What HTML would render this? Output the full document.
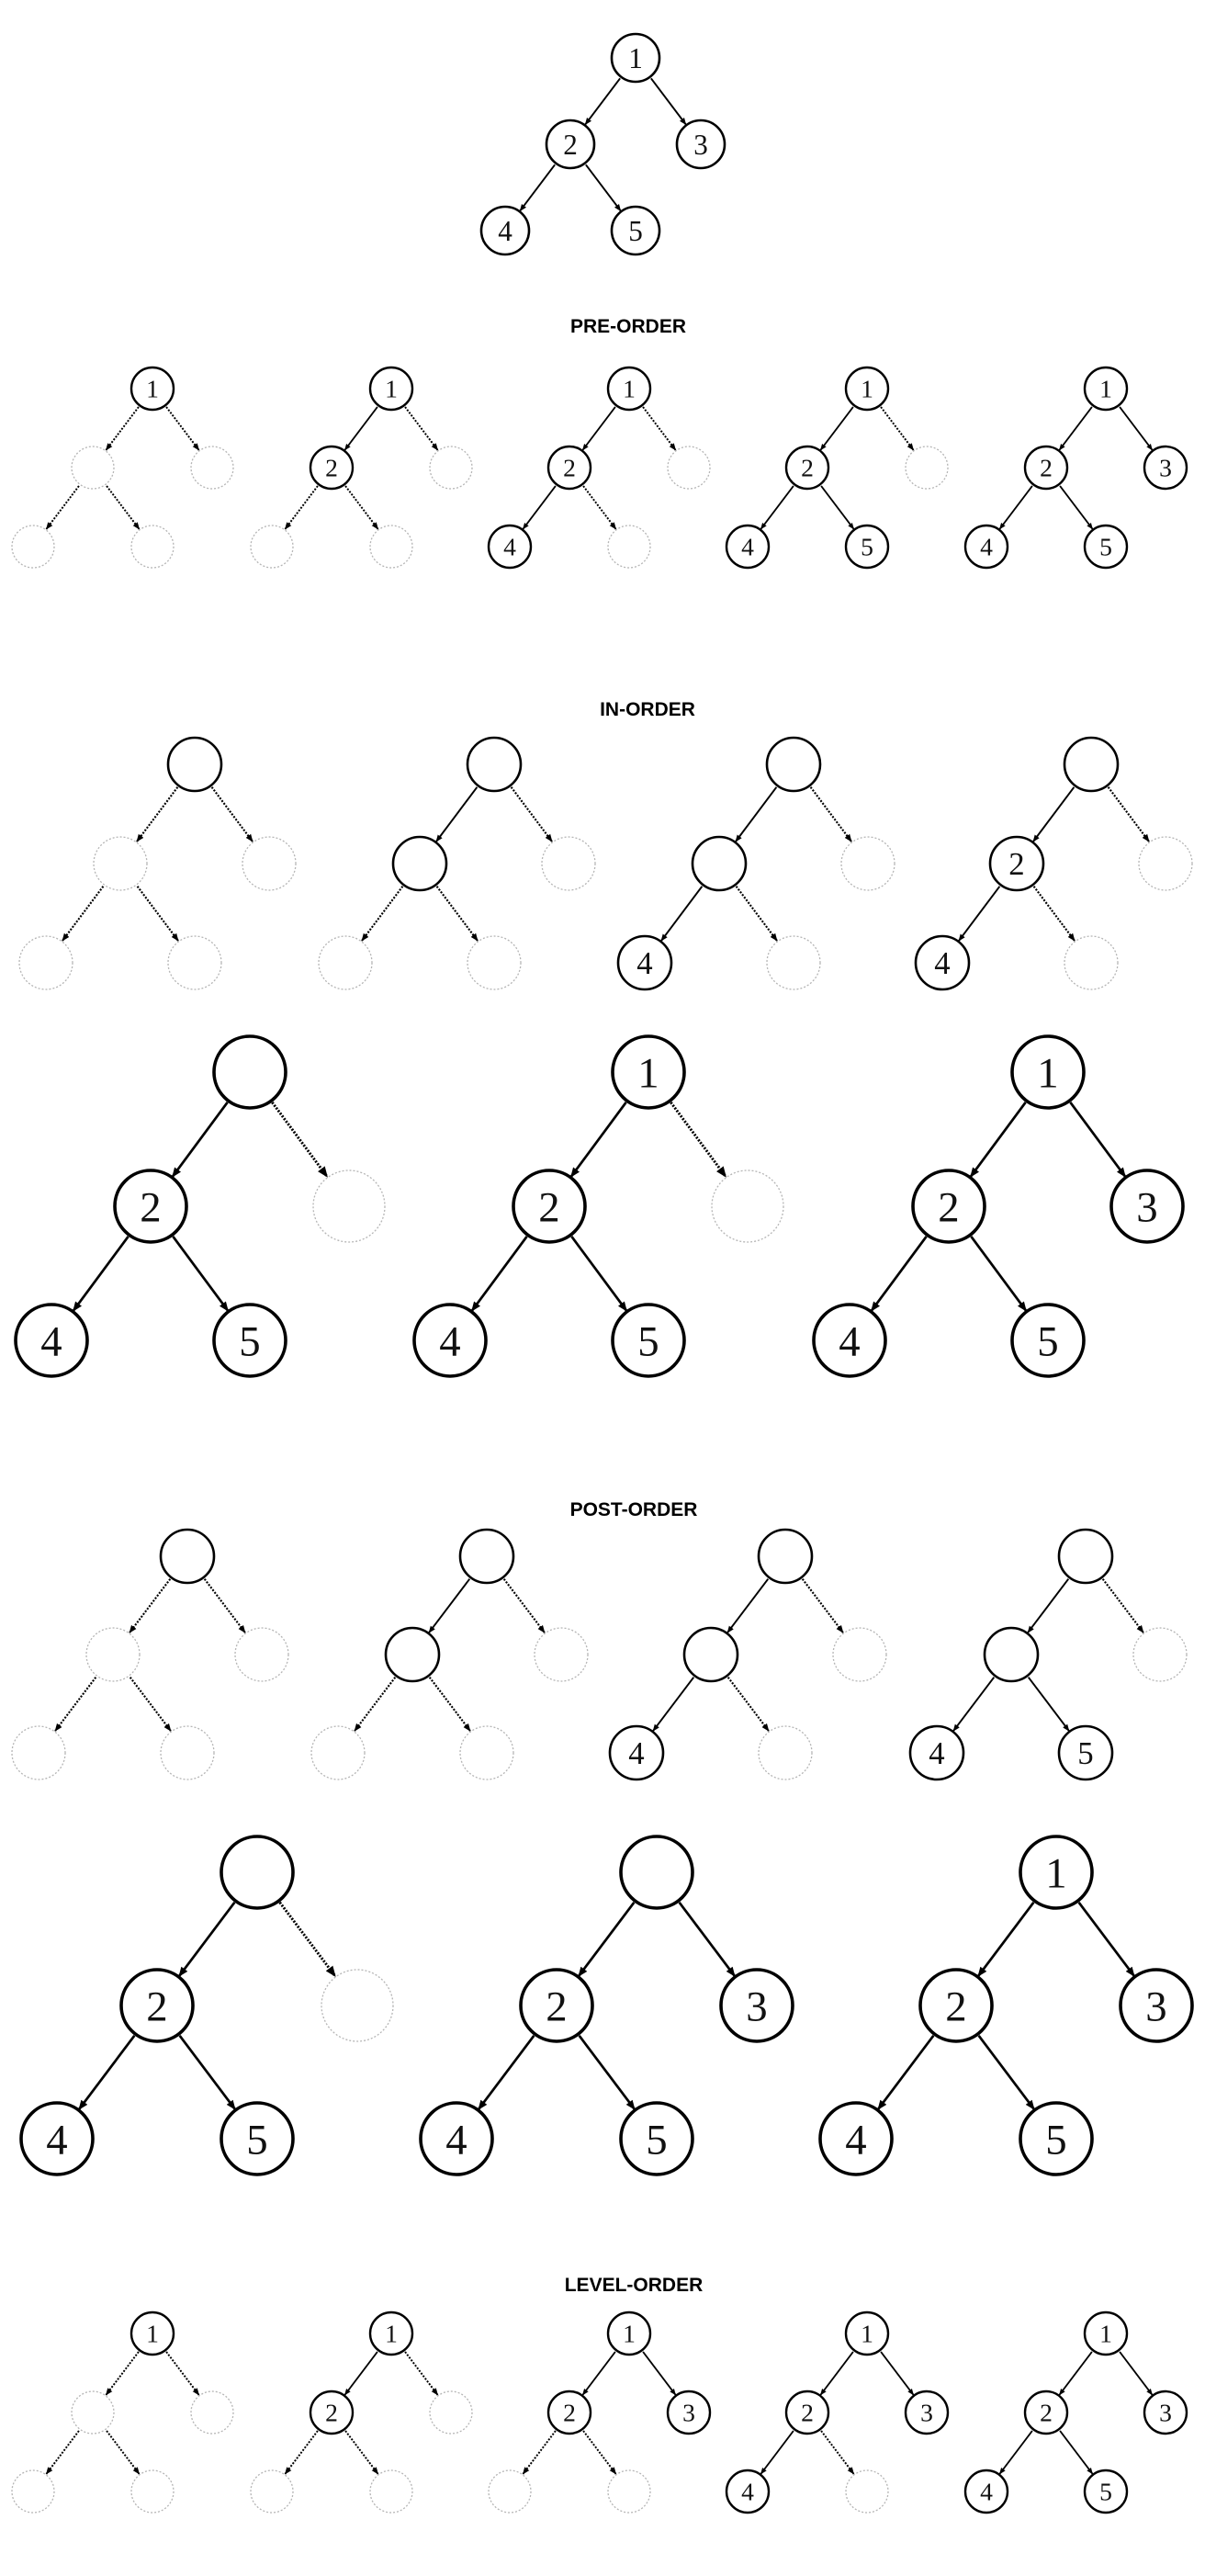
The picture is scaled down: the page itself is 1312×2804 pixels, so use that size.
<!DOCTYPE html>
<html><head><meta charset="utf-8">
<style>
html,body{margin:0;padding:0;background:#fff;}
svg{display:block;}
.title{font-family:"Liberation Sans Narrow","Liberation Sans",sans-serif;font-weight:bold;font-size:21px;fill:#000;}
.lbl{font-family:"Liberation Serif","DejaVu Serif",serif;fill:#111;}
</style></head>
<body>
<svg id="chart" width="1312" height="2804" viewBox="0 0 1312 2804" xmlns="http://www.w3.org/2000/svg">
<defs>
<marker id="ah" viewBox="0 0 10 10" refX="9" refY="5" markerWidth="4" markerHeight="4" orient="auto" markerUnits="strokeWidth"><path d="M0,1 L10,5 L0,9 z" fill="#000"/></marker>
</defs>
<text class="title" x="684" y="362" text-anchor="middle">PRE-ORDER</text>
<text class="title" x="705" y="779" text-anchor="middle">IN-ORDER</text>
<text class="title" x="690" y="1650" text-anchor="middle">POST-ORDER</text>
<text class="title" x="690" y="2494" text-anchor="middle">LEVEL-ORDER</text>
</svg>
<script>
// node labels in order [1,2,3,4,5]; states: L=labeled, V=visible blank, G=ghost
const nodeLabels = ["1","2","3","4","5"];
const treeStates = [
  "LLLLL",
  "LGGGG","LLGGG","LLGLG","LLGLL","LLLLL",
  "VGGGG","VVGGG","VVGLG","VLGLG",
  "VLGLL","LLGLL","LLLLL",
  "VGGGG","VVGGG","VVGLG","VVGLL",
  "VLGLL","VLLLL","LLLLL",
  "LGGGG","LLGGG","LLLGG","LLLLG","LLLLL"
];
const treeNames = [
  "full-tree",
  "pre-order-step-1","pre-order-step-2","pre-order-step-3","pre-order-step-4","pre-order-step-5",
  "in-order-step-1","in-order-step-2","in-order-step-3","in-order-step-4",
  "in-order-step-5","in-order-step-6","in-order-step-7",
  "post-order-step-1","post-order-step-2","post-order-step-3","post-order-step-4",
  "post-order-step-5","post-order-step-6","post-order-step-7",
  "level-order-step-1","level-order-step-2","level-order-step-3","level-order-step-4","level-order-step-5"
];
// layout: [rootX, rootY, dx, dy, r, strokeWidth]
const layouts = [
  [692,63,71,94,26,2.6],
  [166,423,65,86,23,2.4],[426,423,65,86,23,2.4],[685,423,65,86,23,2.4],[944,423,65,86,23,2.4],[1204,423,65,86,23,2.4],
  [212,832,81,108,29,2.6],[538,832,81,108,29,2.6],[864,832,81,108,29,2.6],[1188,832,81,108,29,2.6],
  [272,1167,108,146,39,3.6],[706,1167,108,146,39,3.6],[1141,1167,108,146,39,3.6],
  [204,1694,81,107,29,2.6],[530,1694,81,107,29,2.6],[855,1694,81,107,29,2.6],[1182,1694,81,107,29,2.6],
  [280,2038,109,145,39,3.6],[715,2038,109,145,39,3.6],[1150,2038,109,145,39,3.6],
  [166,2540,65,86,23,2.4],[426,2540,65,86,23,2.4],[685,2540,65,86,23,2.4],[944,2540,65,86,23,2.4],[1204,2540,65,86,23,2.4]
];
const edges = [[0,1],[0,2],[1,3],[1,4]];
const NS = "http://www.w3.org/2000/svg";
const svg = document.getElementById("chart");
function mk(tag, attrs, parent){
  const e = document.createElementNS(NS, tag);
  for (const k in attrs) e.setAttribute(k, attrs[k]);
  parent.appendChild(e);
  return e;
}
treeStates.forEach((st, t) => {
  const [rx, ry, dx, dy, r, sw] = layouts[t];
  const pos = [[rx,ry],[rx-dx,ry+dy],[rx+dx,ry+dy],[rx-2*dx,ry+2*dy],[rx,ry+2*dy]];
  const g = mk("g", {}, svg);
  
  
  edges.forEach(([p, c]) => {
    const [x1,y1] = pos[p], [x2,y2] = pos[c];
    const L = Math.hypot(x2-x1, y2-y1), ux = (x2-x1)/L, uy = (y2-y1)/L;
    const ghost = st[c] === "G";
    const ew = sw*0.75;
    const ln = mk("line", {
      x1: x1+ux*(r+2), y1: y1+uy*(r+2), x2: x2-ux*(r+1), y2: y2-uy*(r+1),
      stroke: "#000", "stroke-width": ghost ? ew*1.1 : ew, "marker-end": "url(#ah)"
    }, g);
    if (ghost) ln.setAttribute("stroke-dasharray", "2 1.6");
    
    
  });
  for (let i = 0; i < 5; i++) {
    const [x, y] = pos[i];
    const s = st[i];
    const c = mk("circle", {cx: x, cy: y, r: r, fill: "#fff"}, g);
    if (s === "G") {
      c.setAttribute("stroke", "#b5b5b5");
      c.setAttribute("stroke-width", "1.3");
      c.setAttribute("stroke-dasharray", "2 2");
    } else {
      c.setAttribute("stroke", "#000");
      c.setAttribute("stroke-width", sw);
    }
    
    
    if (s === "L") {
      const tx = mk("text", {x: x, y: y + r*0.42, "text-anchor": "middle", class: "lbl", "font-size": (r*1.2).toFixed(1)}, g);
      tx.textContent = nodeLabels[i];
      
      
    }
  }
});
</script>
</body></html>
